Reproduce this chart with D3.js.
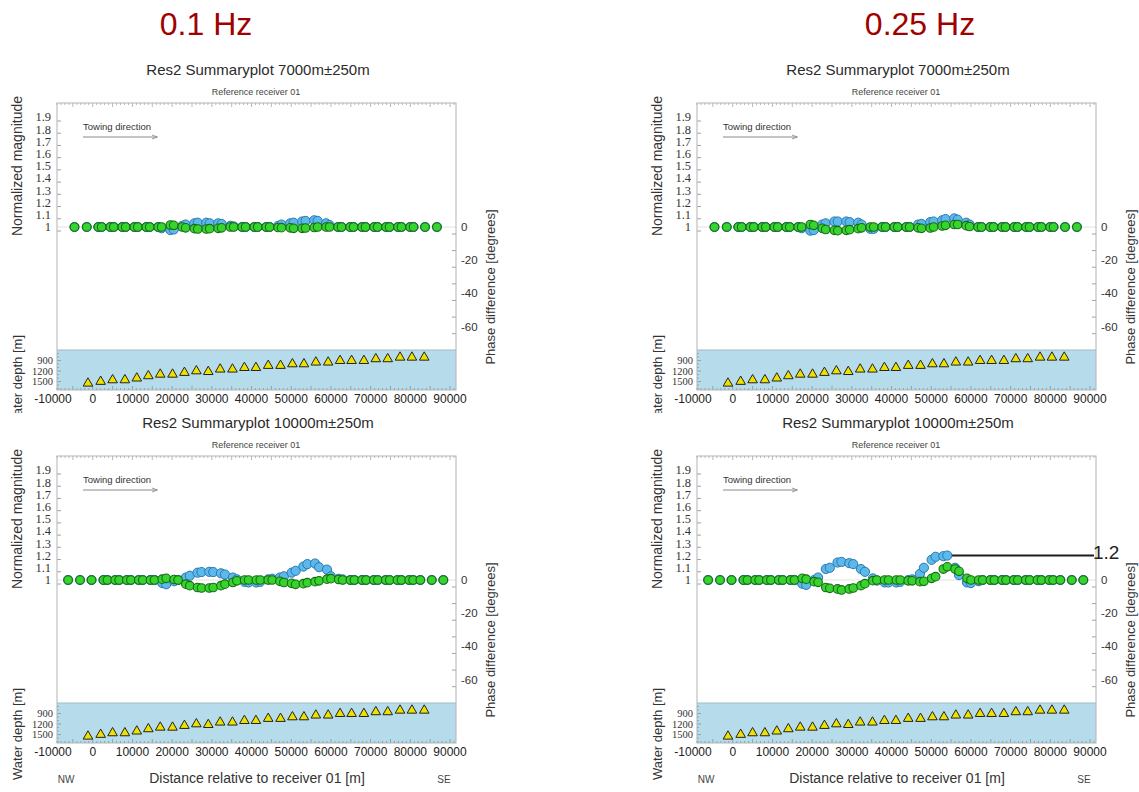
<!DOCTYPE html>
<html>
<head>
<meta charset="utf-8">
<script src="https://cdn.jsdelivr.net/npm/d3@7"></script>
<style>
  body { margin: 0; background: #fff; }
  svg { display: block; }
</style>
</head>
<body>
<script>
// ---- Survey geometry ----------------------------------------------------
const frequencies = ["0.1 Hz", "0.25 Hz"];
const offsetTitles = ["Res2 Summaryplot 7000m\u00b1250m", "Res2 Summaryplot 10000m\u00b1250m"];
const subtitle = "Reference receiver 01";

const xTicks = [-10000, 0, 10000, 20000, 30000, 40000, 50000, 60000, 70000, 80000, 90000];
const magTicks = [1, 1.1, 1.2, 1.3, 1.4, 1.5, 1.6, 1.7, 1.8, 1.9];
const phaseTicks = [0, -20, -40, -60];
const phaseMinorTicks = [0, -10, -20, -30, -40, -50, -60];
const depthTicks = [900, 1200, 1500];

// receiver positions [m] and water depth [m]
const receiverX = [-1200, 2000, 5000, 8100, 11100, 14000, 17000, 20100, 23100, 26100,
  29100, 32100, 35200, 38200, 41100, 44200, 47300, 50300, 53200, 56200, 59300, 62300,
  65200, 68300, 71300, 74300, 77400, 80400, 83500];
const waterDepth = [1550, 1500, 1455, 1455, 1405, 1340, 1295, 1295, 1245, 1200,
  1220, 1150, 1150, 1105, 1105, 1045, 1045, 1000, 1000, 950, 950, 905,
  905, 905, 855, 855, 810, 810, 810];

// source-receiver midpoints for the 7000 m offset class
const pointsX7000 = [-4600, -1500,
  1400, 2250, 4450, 5300, 7450, 8300, 10500, 11350, 13500, 14350, 16500, 17350,
  19550, 20400, 22550, 23400, 25600, 26450, 28600, 29450, 31600, 32450, 34650, 35500,
  37650, 38500, 40700, 41550, 43700, 44550, 46700, 47550, 49750, 50600, 52750, 53600,
  55800, 56650, 58800, 59650, 61800, 62650, 64850, 65700, 67850, 68700, 70900, 71750,
  73900, 74750, 76900, 77750, 79950, 80800,
  83700, 86700];

// source-receiver midpoints for the 10000 m offset class
const pointsX10000 = [-6200, -3200, -300,
  2700, 3700, 5650, 6650, 8600, 9600, 11600, 12600, 14550, 15550, 17500, 18500,
  20500, 21500, 23450, 24450, 26400, 27400, 29350, 30350, 32300, 33300, 35300, 36300,
  38250, 39250, 41200, 42200, 44200, 45200, 47150, 48150, 50100, 51100, 53050, 54050,
  56000, 57000, 59000, 60000, 61950, 62950, 64900, 65900, 67850, 68850, 70800, 71800,
  73800, 74800, 76750, 77750, 79700, 80700,
  82500, 85400, 88300];

// ---- Normalized magnitude / phase difference -----------------------------
const mag01_7000 = [1,1,1,1,1,1,1,1,1,1,1,1,
  1,0.99,0.975,0.98,1.01,1.02,1.03,1.035,1.035,1.03,1.03,1.025,1.01,1.005,
  1,1,1,1,1,1,
  1.01,1.02,1.03,1.035,1.045,1.05,1.055,1.05,1.03,1.015,
  1,1,1,1,1,1,1,1,1,1,1,1,1,1,1,1];
const phase01_7000 = [0,0,0,0,0,0,0,0,0,0,0,0,
  0,0,1.2,1.0,0,-0.5,-1,-1.2,-1.2,-1,-0.8,-0.5,0,0,
  0,0,0,0,0,0,
  -0.3,-0.4,-0.5,-0.8,-0.8,-0.6,-0.3,0,0,0,
  0,0,0,0,0,0,0,0,0,0,0,0,0,0,0,0];

const mag025_7000 = [1,1,1,1,1,1,1,1,1,1,1,1,
  1,0.99,0.97,0.975,1.02,1.03,1.045,1.045,1.045,1.04,1.035,1.02,0.985,0.985,
  1,1,1,1,1,1,
  1.02,1.025,1.04,1.045,1.055,1.065,1.07,1.06,1.035,1.02,
  1,1,1,1,1,1,1,1,1,1,1,1,1,1,1,1];
const phase025_7000 = [0,0,0,0,0,0,0,0,0,0,0,0,
  0,0,1.5,1.0,-0.8,-1.5,-2,-2.2,-2,-1.6,-1,-0.5,0,0,
  0,0,0,0,0,0,
  -0.5,-0.8,-0.6,0,0.6,1,1.5,1.5,0.8,0.3,
  0,0,0,0,0,0,0,0,0,0,0,0,0,0,0,0];

const mag01_10000 = [1,1,1,1,1,1,1,1,1,1,1,1,1,
  0.975,0.965,0.99,1.0,1.02,1.035,1.06,1.065,1.067,1.065,1.055,1.045,1.02,1.005,
  0.985,0.98,0.98,0.985,1.005,1.01,1.02,1.03,1.06,1.075,1.11,1.13,1.135,1.105,
  1.085,1.03,1.01,1.005,
  1,1,1,1,1,1,1,1,1,1,1,1,1,1,1];
const phase01_10000 = [0,0,0,0,0,0,0,0,0,0,0,0,0,
  0.5,1,0.3,0,-2.5,-3.4,-4.5,-4.8,-4.8,-4.5,-3.4,-2.5,-1.5,-0.5,
  0,0,0,0,0,0,-0.8,-1.5,-2,-2.6,-2.2,-1.6,-1,-0.5,
  0.5,0.8,0.3,0,
  0,0,0,0,0,0,0,0,0,0,0,0,0,0,0];

const mag025_10000 = [1,1,1,1,1,1,1,1,1,1,1,1,1,
  0.97,0.96,1.0,1.02,1.09,1.10,1.143,1.148,1.138,1.13,1.09,1.067,1.013,0.995,
  0.98,0.98,0.98,0.985,1.0,1.005,1.05,1.10,1.165,1.19,1.195,1.2,1.10,1.04,
  0.98,0.975,0.99,1.0,
  1,1,1,1,1,1,1,1,1,1,1,1,1,1,1];
const phase025_10000 = [0,0,0,0,0,0,0,0,0,0,0,0,0,
  1,0.5,-1,-1.4,-4.5,-5,-5.4,-6,-5.4,-4.8,-3.4,-2.2,-0.4,0,
  0,0,0,0,-0.5,-0.5,-1,-0.8,1,2,6.6,7.9,6.6,5.2,
  1,0,0,0,
  0,0,0,0,0,0,0,0,0,0,0,0,0,0,0];

// highlighted peak value on the 0.25 Hz / 10000 m panel
const peakLabel = 1.2;
const peakIndex = 38;

// ---- Drawing -------------------------------------------------------------
const W = 1139, H = 792;
const SANS = "'Liberation Sans', Arial, sans-serif";
const SERIF = "'Liberation Serif', 'Times New Roman', serif";
const INK = "#2b2b2b";

const svg = d3.select("body").append("svg")
  .attr("width", W).attr("height", H)
  .attr("font-family", SANS);

svg.append("rect").attr("width", W).attr("height", H).attr("fill", "#fff");

// frequency headers
[206, 920].forEach((cx, i) => {
  svg.append("text").attr("x", cx).attr("y", 35)
    .attr("text-anchor", "middle").attr("font-size", 32)
    .attr("fill", "#a00000").text(frequencies[i]);
});

const defs = svg.append("defs");
defs.append("clipPath").attr("id", "topClip")
  .append("rect").attr("x", -10).attr("y", -10).attr("width", 660).attr("height", 423);
defs.append("marker").attr("id", "arrowHead")
  .attr("viewBox", "0 0 10 10").attr("refX", 9).attr("refY", 5)
  .attr("markerWidth", 6).attr("markerHeight", 6).attr("orient", "auto")
  .append("path").attr("d", "M0,1.5 L10,5 L0,8.5").attr("fill", "none")
  .attr("stroke", "#8a8a8a").attr("stroke-width", 1.4);

// shared scales, panel-local coordinates
const FL = 57, FR = 456, FT = 103, BT = 350, BB = 390;
const x = d3.scaleLinear().domain([-9000, 91500]).range([FL, FR]);
const mag = d3.scaleLinear().domain([1, 1.9]).range([227, 117]);
const phase = d3.scaleLinear().domain([0, -60]).range([227, 326.7]);
const depth = d3.scaleLinear().domain([600, 1740]).range([BT, BB]);

const panels = [
  { dx: 0,   dy: 0,   title: offsetTitles[0], px: pointsX7000,  m: mag01_7000,   p: phase01_7000,   bottom: false },
  { dx: 640, dy: 0,   title: offsetTitles[0], px: pointsX7000,  m: mag025_7000,  p: phase025_7000,  bottom: false },
  { dx: 0,   dy: 353, title: offsetTitles[1], px: pointsX10000, m: mag01_10000,  p: phase01_10000,  bottom: true },
  { dx: 640, dy: 353, title: offsetTitles[1], px: pointsX10000, m: mag025_10000, p: phase025_10000, bottom: true, peak: true }
];

panels.forEach(cfg => {
  const g = svg.append("g").attr("transform", `translate(${cfg.dx},${cfg.dy})`);
  if (!cfg.bottom) g.attr("clip-path", "url(#topClip)");

  // titles
  g.append("text").attr("x", 258).attr("y", 75).attr("text-anchor", "middle")
    .attr("font-size", 15).attr("fill", INK).text(cfg.title);
  g.append("text").attr("x", 256).attr("y", 95).attr("text-anchor", "middle")
    .attr("font-size", 9).attr("fill", "#444").text(subtitle);

  // plot area and water band
  g.append("rect").attr("x", FL).attr("y", FT).attr("width", FR - FL).attr("height", BT - FT)
    .attr("fill", "#fff");
  g.append("rect").attr("x", FL).attr("y", BT).attr("width", FR - FL).attr("height", BB - BT)
    .attr("fill", "#b6dcec");

  // faint reference line at unit magnitude
  g.append("line").attr("x1", FL).attr("x2", FR).attr("y1", mag(1)).attr("y2", mag(1))
    .attr("stroke", "#e2e2e2").attr("stroke-width", 1);

  // distance ticks along the top and bottom edges
  const minor = d3.range(-9000, 91501, 1000);
  g.append("g").selectAll("line").data(minor).join("line")
    .attr("x1", d => x(d)).attr("x2", d => x(d))
    .attr("y1", FT).attr("y2", d => FT + (d % 5000 === 0 ? 4 : 2))
    .attr("stroke", "#9a9a9a").attr("stroke-width", 0.7);
  g.append("g").selectAll("line").data(minor).join("line")
    .attr("x1", d => x(d)).attr("x2", d => x(d))
    .attr("y1", BB).attr("y2", d => BB - (d % 5000 === 0 ? 4 : 2))
    .attr("stroke", "#6f8f9c").attr("stroke-width", 0.7);

  // magnitude axis
  g.append("g").selectAll("line").data(magTicks).join("line")
    .attr("x1", FL).attr("x2", FL + 4)
    .attr("y1", d => mag(d) + 4).attr("y2", d => mag(d) + 4)
    .attr("stroke", "#8a8a8a").attr("stroke-width", 0.8);
  g.append("g").selectAll("text").data(magTicks).join("text")
    .attr("x", 51).attr("y", d => mag(d)).attr("dy", "0.35em")
    .attr("text-anchor", "end").attr("font-family", SERIF).attr("font-size", 12.5)
    .attr("fill", "#333").text(d => d3.format("~g")(d));

  // phase axis
  g.append("g").selectAll("line").data(phaseMinorTicks).join("line")
    .attr("x1", FR - 4).attr("x2", FR)
    .attr("y1", d => phase(d) + 7).attr("y2", d => phase(d) + 7)
    .attr("stroke", "#8a8a8a").attr("stroke-width", 0.8);
  g.append("g").selectAll("text").data(phaseTicks).join("text")
    .attr("x", 461).attr("y", d => phase(d)).attr("dy", "0.35em")
    .attr("font-size", 11.5).attr("fill", "#333").text(d => d);

  // water depth axis
  g.append("g").selectAll("line").data(d3.range(700, 1701, 100)).join("line")
    .attr("x1", FL).attr("x2", d => FL + (d % 300 === 0 ? 4 : 2))
    .attr("y1", d => depth(d)).attr("y2", d => depth(d))
    .attr("stroke", "#7b97a3").attr("stroke-width", 0.8);
  g.append("g").selectAll("text").data(depthTicks).join("text")
    .attr("x", 53).attr("y", d => depth(d)).attr("dy", "0.35em")
    .attr("text-anchor", "end").attr("font-family", SERIF).attr("font-size", 10.5)
    .attr("fill", "#333").text(d => d);

  // frame
  g.append("rect").attr("x", FL).attr("y", FT).attr("width", FR - FL).attr("height", BB - FT)
    .attr("fill", "none").attr("stroke", "#b3b3b3").attr("stroke-width", 1);
  g.append("line").attr("x1", FL).attr("x2", FR).attr("y1", BT).attr("y2", BT)
    .attr("stroke", "#9fb9c6").attr("stroke-width", 1);

  // towing direction
  g.append("text").attr("x", 83).attr("y", 130).attr("font-size", 9.5)
    .attr("fill", "#333").text("Towing direction");
  g.append("line").attr("x1", 83).attr("x2", 157).attr("y1", 137).attr("y2", 137)
    .attr("stroke", "#8a8a8a").attr("stroke-width", 1)
    .attr("marker-end", "url(#arrowHead)");

  // peak annotation line (behind the markers)
  if (cfg.peak) {
    const yv = mag(peakLabel);
    g.append("line").attr("x1", x(cfg.px[peakIndex])).attr("x2", FR - 2)
      .attr("y1", yv).attr("y2", yv)
      .attr("stroke", "#1c1c1c").attr("stroke-width", 2);
  }

  // normalized magnitude
  g.append("g").selectAll("circle").data(cfg.px).join("circle")
    .attr("cx", d => x(d)).attr("cy", (d, i) => mag(cfg.m[i])).attr("r", 4.6)
    .attr("fill", "#5db9ec").attr("stroke", "#2b79ae").attr("stroke-width", 1);
  // phase difference
  g.append("g").selectAll("circle").data(cfg.px).join("circle")
    .attr("cx", d => x(d)).attr("cy", (d, i) => phase(cfg.p[i])).attr("r", 4.3)
    .attr("fill", "#36d42c").attr("stroke", "#176b17").attr("stroke-width", 1.1);

  // receivers on the seafloor
  g.append("g").selectAll("path").data(receiverX).join("path")
    .attr("transform", (d, i) => `translate(${x(d)},${depth(waterDepth[i])})`)
    .attr("d", d3.symbol(d3.symbolTriangle, 40)())
    .attr("fill", "#eee000").attr("stroke", "#222").attr("stroke-width", 1);

  // distance tick labels
  g.append("g").selectAll("text").data(xTicks).join("text")
    .attr("x", d => x(d)).attr("y", 403).attr("text-anchor", "middle")
    .attr("font-size", 12).attr("fill", "#222").text(d => d);

  // axis titles
  g.append("text").attr("transform", "translate(22,166) rotate(-90)")
    .attr("text-anchor", "middle").attr("font-size", 14).attr("fill", "#333")
    .text("Normalized magnitude");
  g.append("text").attr("transform", "translate(22,381) rotate(-90)")
    .attr("text-anchor", "middle").attr("font-size", 13).attr("fill", "#333")
    .text("Water depth [m]");
  g.append("text").attr("transform", "translate(495,287) rotate(-90)")
    .attr("text-anchor", "middle").attr("font-size", 13).attr("fill", "#333")
    .text("Phase difference [degrees]");

  if (cfg.bottom) {
    g.append("text").attr("x", 66).attr("y", 430).attr("text-anchor", "middle")
      .attr("font-size", 10).attr("fill", "#444").text("NW");
    g.append("text").attr("x", 257).attr("y", 430).attr("text-anchor", "middle")
      .attr("font-size", 14).attr("fill", "#333").text("Distance relative to receiver 01 [m]");
    g.append("text").attr("x", 444).attr("y", 430).attr("text-anchor", "middle")
      .attr("font-size", 10).attr("fill", "#444").text("SE");
  }

  if (cfg.peak) {
    g.append("text").attr("x", FR - 3).attr("y", mag(peakLabel) + 3)
      .attr("font-size", 19).attr("fill", "#222").text(d3.format(".1f")(peakLabel));
  }
});
</script>
</body>
</html>
